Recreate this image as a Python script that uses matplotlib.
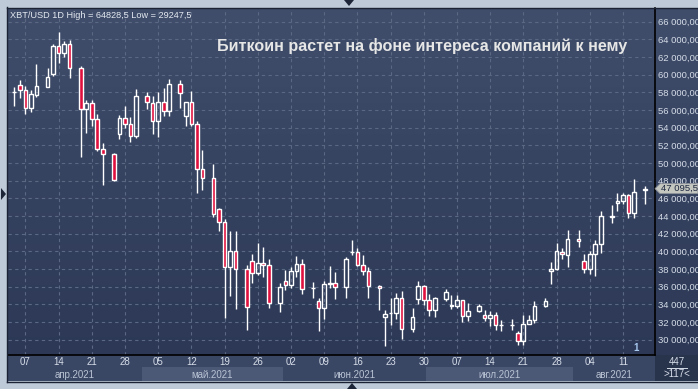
import numpy as np
import pandas as pd
import matplotlib
matplotlib.use("Agg")
import matplotlib.pyplot as plt
from matplotlib.colors import LinearSegmentedColormap
from matplotlib.patches import Polygon
from matplotlib.lines import Line2D

W, H = 698, 389

# daily XBT/USD candles, 5 per week (Mon 2021-04-05 .. Mon 2021-08-16)
dates = pd.bdate_range("2021-04-05", "2021-08-16")
opens = [58000, 58870, 58300, 56200, 57690, 58600, 60120, 63230, 62510, 63530,
         60800, 56130, 56820, 54990, 51580, 51010, 53250, 55110, 54430, 53060,
         57580, 56820, 54770, 56930, 55910, 58980, 55300, 56930, 54430, 49300,
         48280, 44750, 43270, 38260, 40000, 38030, 38940, 37580, 38710, 38490,
         34120, 36670, 36210, 37730, 38600, 35800, 34390, 33550, 36320, 36440,
         35940, 39890, 39890, 38490, 37730, 36100, 32570, 32980, 32980, 34730,
         31200, 34620, 36100, 34500, 33330, 34620, 33860, 33860, 34500, 32680,
         33250, 32790, 32490, 32790, 31650, 31620, 30710, 29830, 31770, 32220,
         33820, 37730, 37990, 39970, 39630, 41450, 38870, 38030, 39740, 40880,
         43880, 45430, 45660, 46380, 44370, 46900]
highs = [58600, 59430, 58680, 58220, 61260, 60800, 63530, 64828.5, 63840, 63910,
         60950, 57160, 57160, 55560, 52260, 51160, 55450, 56510, 55260, 58410,
         57990, 57540, 57990, 58450, 59550, 59360, 56930, 58100, 54800, 51510,
         49870, 44900, 43650, 42280, 42280, 38410, 39740, 40920, 40460, 39170,
         36360, 37880, 38180, 39440, 39170, 36480, 34690, 36660, 38300, 37650,
         39320, 41250, 40380, 39550, 38180, 36210, 33330, 34770, 35260, 35450,
         33630, 36590, 36210, 35190, 34880, 35720, 35070, 35070, 34500, 34200,
         34050, 33330, 33250, 33100, 32220, 32300, 30970, 32800, 32790, 34390,
         34770, 38790, 40950, 40380, 42400, 42470, 39740, 40000, 41330, 44560,
         45200, 46640, 46650, 46530, 48160, 47400]
lows = [56500, 57350, 55560, 55750, 57460, 58600, 59850, 61330, 62015, 59620,
        50630, 53360, 54235, 51390, 47560, 47970, 52680, 53930, 52340, 52790,
        56130, 53250, 52910, 55300, 55300, 56210, 54160, 54160, 46650, 46990,
        43910, 42280, 32410, 34920, 33480, 31090, 36400, 37350, 37040, 33550,
        33170, 35600, 35830, 37040, 35150, 34690, 30970, 32300, 35830, 34610,
        34690, 39630, 38300, 37350, 34690, 33320, 29247.5, 31650, 32300, 30020,
        30820, 34010, 33930, 32680, 32570, 34390, 33440, 33550, 32040, 32150,
        33100, 32150, 31580, 31050, 31010, 31050, 29400, 29380, 31770, 31850,
        33740, 36280, 37920, 39170, 38220, 40500, 37540, 37420, 37160, 39810,
        43230, 44560, 45320, 43720, 43800, 45390]
closes = [58050, 58300, 56200, 57770, 58750, 59780, 63230, 62510, 63530, 60800,
          56130, 56820, 54990, 51540, 51010, 48130, 55150, 54430, 53060, 57610,
          56930, 54770, 56930, 55910, 58980, 57950, 56930, 54430, 49300, 48280,
          44180, 43270, 38260, 40000, 37990, 33700, 37580, 38710, 38490, 34120,
          35980, 36210, 37730, 38600, 35750, 35830, 33550, 36320, 36450, 35940,
          39170, 39950, 38490, 37730, 36100, 35870, 32910, 33020, 34770, 31200,
          32600, 36100, 34500, 33330, 34690, 35410, 33900, 34500, 32680, 33290,
          33820, 32490, 32790, 31660, 31700, 31660, 29830, 31770, 32220, 33820,
          34390, 37990, 40000, 39700, 41450, 41220, 38030, 39740, 40880, 43990,
          43950, 45660, 46380, 44370, 46680, 47095.5]

price_ticks = np.arange(30000, 66001, 2000)
month_labels = ["апр.2021", "май.2021", "июн.2021", "июл.2021", "авг.2021"]
header = "XBT/USD 1D High = 64828,5 Low = 29247,5"
title = "Биткоин растет на фоне интереса компаний к нему"
last_price = closes[-1]

RED = "#e0103e"
GRID = "#5a6884"
TXT = "#d6dde9"
FONT = "Liberation Sans"


def box(x0, y0, x1, y1):
    # pixel box (top-left origin) -> figure fraction rect
    return [x0 / W, 1 - y1 / H, (x1 - x0) / W, (y1 - y0) / H]


def fxy(x, y):
    return x / W, 1 - y / H


def bare(a):
    a.set_xticks([])
    a.set_yticks([])
    for s in a.spines.values():
        s.set_visible(False)


# one slot per weekday, weekend collapsed into one empty slot
slots = np.asarray((dates - dates[0]).days // 7 * 6 + dates.weekday, dtype=float)
o, h, l, c = (np.array(v, dtype=float) for v in (opens, highs, lows, closes))
xlim = (-1.14, 115.8)
ylim = (28259, 67552)

fig = plt.figure(figsize=(W / 100, H / 100), dpi=100, facecolor="#bfcad8")

# background gradient for plot + price scale
bg = fig.add_axes(box(8, 8, 698, 355))
cmap = LinearSegmentedColormap.from_list("bg", ["#2c3855", "#404e6b"])
bg.imshow(np.linspace(0, 1, 256).reshape(-1, 1)[::-1], cmap=cmap, aspect="auto",
          extent=[0, 1, 0, 1])
bg.set_axis_off()

# date axis strip
dax = fig.add_axes(box(8, 355, 655, 381), facecolor="#3a4764")
dax.set_xlim(*xlim)
dax.set_ylim(0, 1)
bare(dax)
months = dates.month
bounds = [xlim[0]]
for m0, m1 in zip(range(4, 8), range(5, 9)):
    last = slots[months == m0].max()
    first = slots[months == m1].min()
    bounds.append((last + first) / 2)
bounds.append(xlim[1])
for i, lab in enumerate(month_labels):
    if i % 2 == 1:
        dax.axvspan(bounds[i], bounds[i + 1], ymin=0, ymax=0.52, color="#4b5977", lw=0)
    dax.text((bounds[i] + bounds[i + 1]) / 2, 0.24, lab, ha="center", va="center",
             fontsize=7, color="#b9c3d4", family=FONT)
wed = dates[dates.weekday == 2]
wed_slots = slots[dates.weekday == 2]
for xs, d in zip(wed_slots, wed):
    dax.text(xs, 0.72, f"{d.day:02d}", ha="center", va="center",
             fontsize=7, color=TXT, family=FONT)

# scale counter box bottom right
cax = fig.add_axes(box(655, 355, 698, 381), facecolor="#28334c")
bare(cax)
fig.text(*fxy(677, 362), "447", ha="center", va="center", fontsize=7, color=TXT, family=FONT)
fig.add_artist(Line2D([667 / W, 687 / W], [1 - 367.5 / H] * 2, color=TXT, lw=0.7))
fig.text(*fxy(677, 374), ">117<", ha="center", va="center", fontsize=7, color=TXT, family=FONT)

# main chart
ax = fig.add_axes(box(8, 8, 655, 355), facecolor="none")
ax.set_xlim(*xlim)
ax.set_ylim(*ylim)
for yv in price_ticks:
    ax.axhline(yv, color=GRID, lw=0.8, ls=(0, (3, 3)), zorder=1)
for xs in wed_slots:
    ax.axvline(xs, color=GRID, lw=0.8, ls=(0, (3, 3)), zorder=1)

up = c >= o
body_lo = np.minimum(o, c)
body_hi = np.maximum(o, c)
ax.vlines(slots, body_hi, h, color="white", lw=1, zorder=3)
ax.vlines(slots, l, body_lo, color="white", lw=1, zorder=3)
ax.bar(slots[up], (body_hi - body_lo)[up], bottom=body_lo[up], width=0.66,
       facecolor="none", edgecolor="white", linewidth=1, zorder=4)
ax.bar(slots[~up], (body_hi - body_lo)[~up], bottom=body_lo[~up], width=0.66,
       facecolor=RED, edgecolor="white", linewidth=1, zorder=4)

ax.set_xticks([])
ax.yaxis.tick_right()
ax.set_yticks(price_ticks)
ax.set_yticklabels([f"{v:,.2f}".replace(",", " ").replace(".", ",") for v in price_ticks],
                   fontsize=6.8, color=TXT, family=FONT)
ax.tick_params(axis="y", length=0, pad=2)
for side in ("left", "top"):
    ax.spines[side].set_visible(False)
for side in ("bottom", "right"):
    ax.spines[side].set_color("black")
    ax.spines[side].set_linewidth(1.2)

# texts
fig.text(*fxy(10, 15), header, ha="left", va="center", fontsize=6.6, color="#e4e9f1", family=FONT)
fig.text(*fxy(217, 51.5), title, ha="left", va="baseline", fontsize=11.6,
         fontweight="bold", color="#e6e6e6", family=FONT)
fig.text(*fxy(636, 348), "1", ha="center", va="center", fontsize=7, color="#a9c8f0",
         family=FONT, fontweight="bold")

# last price tag
yp_px = H - ax.transData.transform((0, last_price))[1]
tag = Polygon([fxy(655, yp_px), fxy(660, yp_px - 5), fxy(698, yp_px - 5),
               fxy(698, yp_px + 5), fxy(660, yp_px + 5)], closed=True,
              transform=fig.transFigure, facecolor="#c4c6c0", edgecolor="#8a8f98", lw=0.6,
              zorder=5)
fig.add_artist(tag)
fig.text(*fxy(661, yp_px), "47 095,5", ha="left", va="center", fontsize=6.8,
         color="#1d2740", family=FONT, zorder=6)

# frame markers
for pts in ([(344, 0), (354, 0), (349, 6)],
            [(347, 389), (357, 389), (352, 383)],
            [(1, 188), (1, 200), (6, 194)]):
    fig.add_artist(Polygon([fxy(*p) for p in pts], closed=True, transform=fig.transFigure,
                           facecolor="#1c2638", edgecolor="none"))
fig.add_artist(Line2D([7 / W, 7 / W], [1 - 7 / H, 1 - 382 / H], color="#1a2233", lw=1))
fig.add_artist(Line2D([7 / W, 698 / W], [1 - 7.5 / H] * 2, color="#1a2233", lw=1))
fig.add_artist(Line2D([7 / W, 698 / W], [1 - 381.5 / H] * 2, color="#1a2233", lw=1))

fig.savefig("out.png", dpi=100, facecolor=fig.get_facecolor())
